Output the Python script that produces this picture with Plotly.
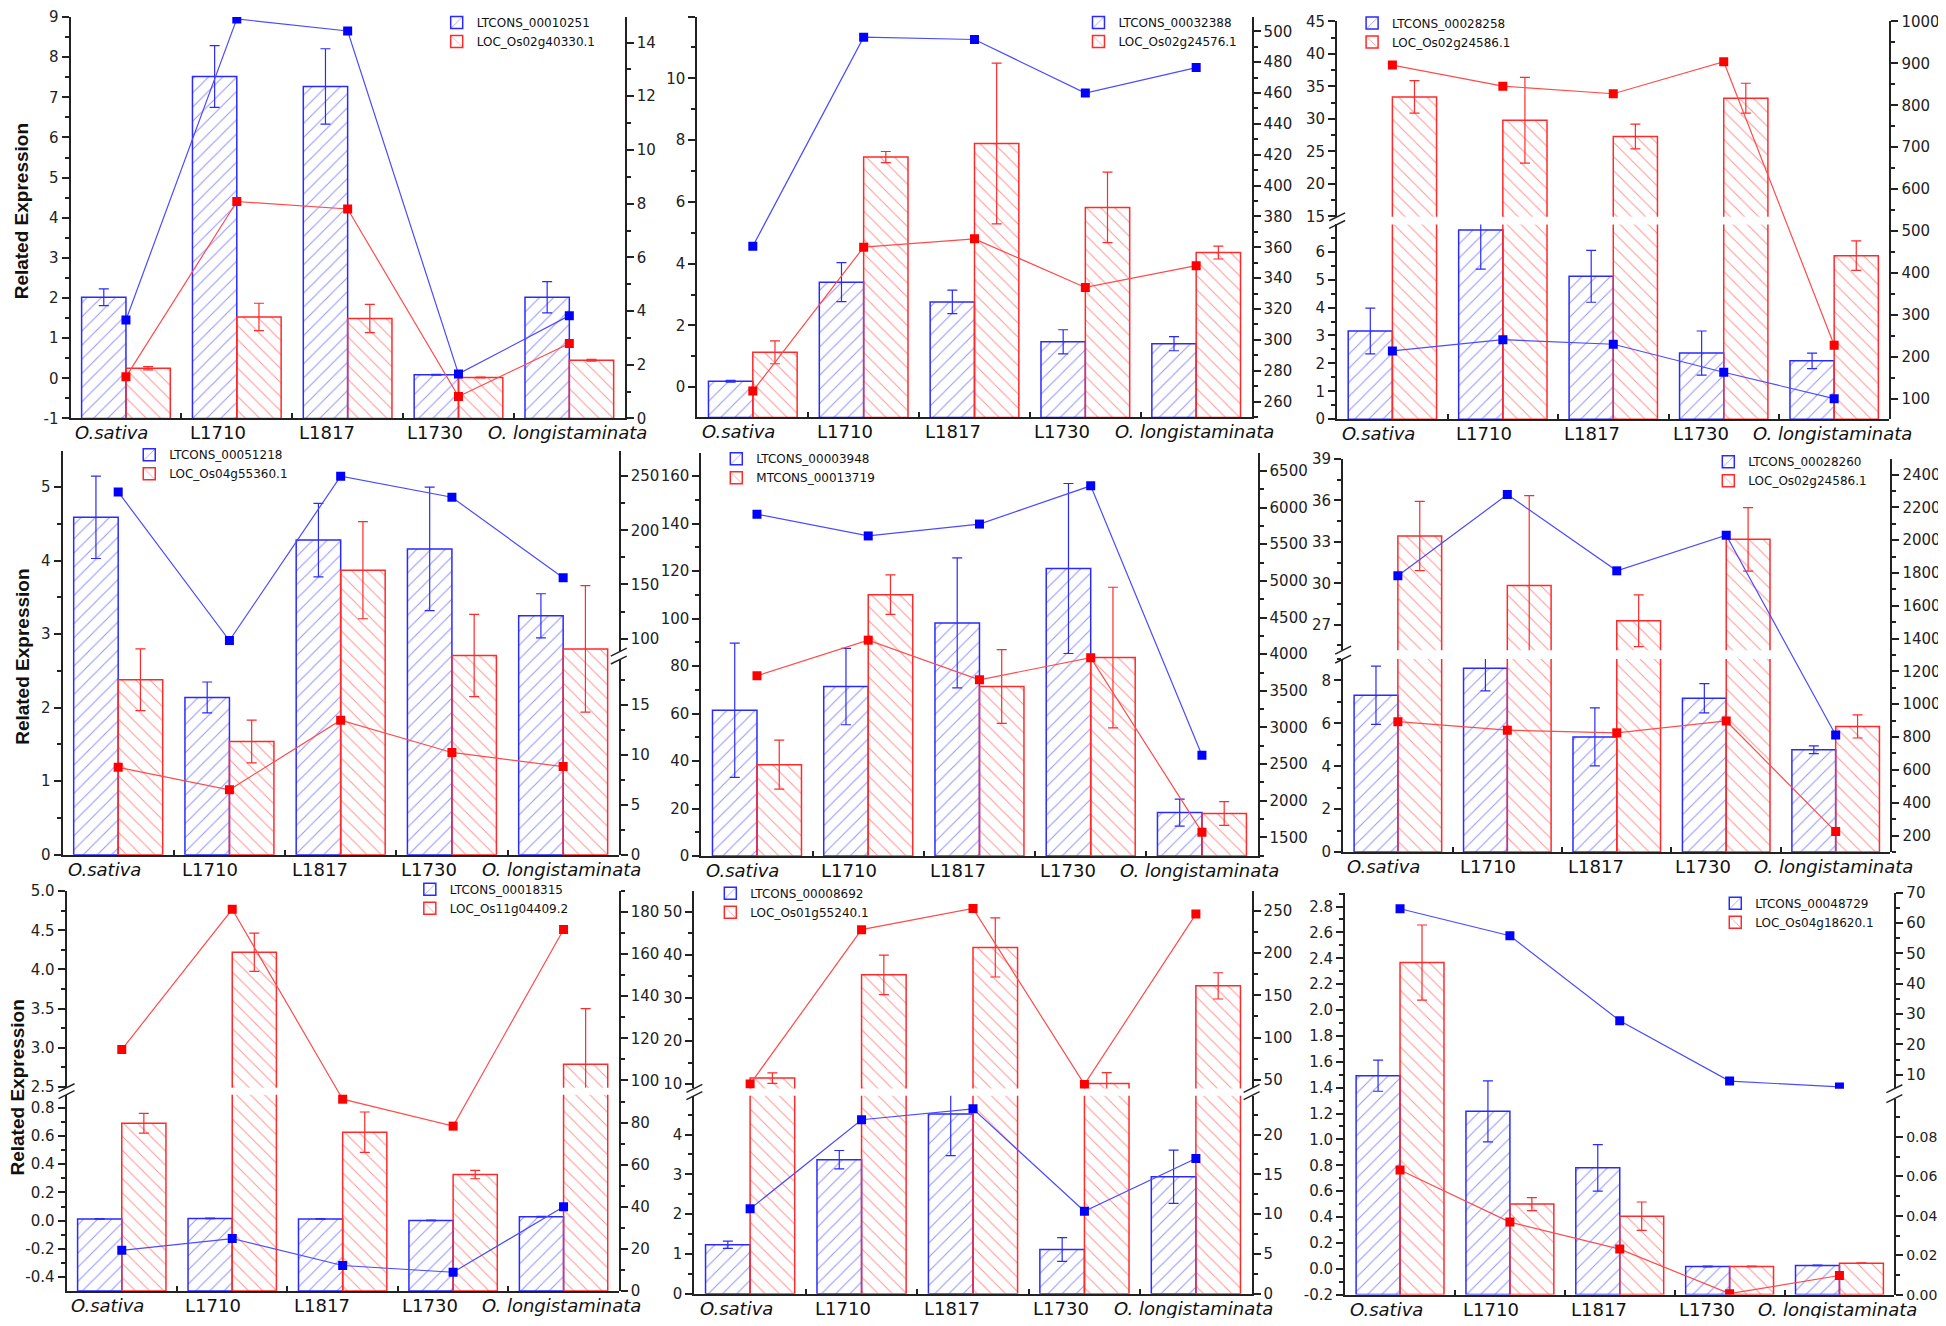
import math
import plotly.graph_objects as go

# the page body keeps its default 8px margin, so the figure sits at (8, 8) in the window
OFF = 8
FW, FH = 1946 - 2 * OFF, 1326 - 2 * OFF
# the original runs right to the window edges; squeeze the layout a hair so nothing is clipped
KX, KY = 0.995, 0.99

CATEGORIES = ["O.sativa", "L1710", "L1817", "L1730", "O. longistaminata"]
TICK_TEXT = ["<i>O.sativa</i>", "L1710", "L1817", "L1730", "<i>O. longistaminata</i>"]
# the original's category labels sit a little left of their bar groups (px)
LABEL_SHIFT = [-14, -19, -21, -23, -2]

# ---- values (bars: left axis, lines: right axis) ----
P1_NAMES = ["LTCONS_00010251", "LOC_Os02g40330.1"]
P1_BLUE_BAR = [2.02, 7.52, 7.27, 0.09, 2.02]
P1_BLUE_ERR = [0.21, 0.77, 0.94, 0.01, 0.39]
P1_RED_BAR = [0.25, 1.53, 1.49, 0.02, 0.45]
P1_RED_ERR = [0.04, 0.34, 0.35, 0.01, 0.02]
P1_BLUE_LINE = [3.67, 14.88, 14.43, 1.66, 3.83]
P1_RED_LINE = [1.55, 8.08, 7.80, 0.82, 2.79]

P2_NAMES = ["LTCONS_00032388", "LOC_Os02g24576.1"]
P2_BLUE_BAR = [0.19, 3.40, 2.76, 1.47, 1.41]
P2_BLUE_ERR = [0.03, 0.63, 0.38, 0.39, 0.23]
P2_RED_BAR = [1.13, 7.45, 7.89, 5.82, 4.36]
P2_RED_ERR = [0.37, 0.18, 2.60, 1.14, 0.21]
P2_BLUE_LINE = [360.7, 496.2, 494.7, 460.0, 476.5]
P2_RED_LINE = [266.8, 360.1, 365.5, 334.0, 348.1]

P3_NAMES = ["LTCONS_00028258", "LOC_Os02g24586.1"]
P3_BLUE_BAR = [3.16, 6.78, 5.12, 2.37, 2.09]
P3_BLUE_ERR = [0.82, 1.40, 0.93, 0.79, 0.28]
P3_RED_BAR = [33.4, 29.8, 27.3, 33.2, 5.86]
P3_RED_ERR = [2.5, 6.6, 1.9, 2.3, 0.53]
P3_BLUE_LINE = [214.0, 240.8, 229.8, 163.0, 100.0]
P3_RED_LINE = [896.0, 845.7, 827.6, 903.9, 227.6]

P4_NAMES = ["LTCONS_00051218", "LOC_Os04g55360.1"]
P4_BLUE_BAR = [4.59, 2.14, 4.28, 4.16, 3.25]
P4_BLUE_ERR = [0.56, 0.21, 0.50, 0.84, 0.30]
P4_RED_BAR = [2.38, 1.54, 3.87, 2.71, 2.80]
P4_RED_ERR = [0.42, 0.29, 0.66, 0.56, 0.86]
P4_BLUE_LINE = [235.4, 98.2, 250.0, 230.5, 156.1]
P4_RED_LINE = [8.77, 6.52, 13.5, 10.26, 8.84]

P5_NAMES = ["LTCONS_00003948", "MTCONS_00013719"]
P5_BLUE_BAR = [61.4, 71.4, 98.2, 121.1, 18.3]
P5_BLUE_ERR = [28.3, 16.1, 27.4, 35.8, 5.7]
P5_RED_BAR = [38.5, 110.1, 71.4, 83.6, 17.9]
P5_RED_ERR = [10.3, 8.3, 15.5, 29.6, 5.0]
P5_BLUE_LINE = [5910, 5613, 5775, 6297, 2621]
P5_RED_LINE = [3705, 4191, 3651, 3953, 1572]

P6_NAMES = ["LTCONS_00028260", "LOC_Os02g24586.1"]
P6_BLUE_BAR = [7.31, 8.57, 5.37, 7.17, 4.77]
P6_BLUE_ERR = [1.36, 1.05, 1.35, 0.68, 0.18]
P6_RED_BAR = [33.42, 29.84, 27.29, 33.18, 5.86]
P6_RED_ERR = [2.5, 6.5, 1.87, 2.3, 0.54]
P6_BLUE_LINE = [1783, 2278, 1813, 2030, 813]
P6_RED_LINE = [894, 842, 826, 898, 224]

P7_NAMES = ["LTCONS_00018315", "LOC_Os11g04409.2"]
P7_BLUE_BAR = [0.012, 0.016, 0.012, 0.002, 0.028]
P7_BLUE_ERR = [0.002, 0.002, 0.002, 0.002, 0.003]
P7_RED_BAR = [0.69, 4.22, 0.627, 0.327, 2.79]
P7_RED_ERR = [0.07, 0.245, 0.143, 0.03, 0.71]
P7_BLUE_LINE = [19.3, 24.9, 12.1, 8.9, 40.0]
P7_RED_LINE = [114.7, 181.3, 91.1, 78.3, 171.7]

P8_NAMES = ["LTCONS_00008692", "LOC_Os01g55240.1"]
P8_BLUE_BAR = [1.23, 3.37, 4.52, 1.11, 2.94]
P8_BLUE_ERR = [0.09, 0.23, 1.05, 0.30, 0.67]
P8_RED_BAR = [11.38, 35.36, 41.72, 10.15, 32.8]
P8_RED_ERR = [1.2, 4.6, 6.86, 2.5, 3.05]
P8_BLUE_LINE = [10.66, 21.87, 23.24, 10.37, 17.0]
P8_RED_LINE = [44.9, 227.7, 252.7, 44.5, 246.1]

P9_NAMES = ["LTCONS_00048729", "LOC_Os04g18620.1"]
P9_BLUE_BAR = [1.492, 1.217, 0.78, 0.018, 0.026]
P9_BLUE_ERR = [0.12, 0.236, 0.18, 0.003, 0.003]
P9_RED_BAR = [2.367, 0.50, 0.406, 0.018, 0.043]
P9_RED_ERR = [0.29, 0.05, 0.11, 0.002, 0.002]
P9_BLUE_LINE = [64.7, 55.8, 27.8, 7.9, 6.0]
P9_RED_LINE = [0.0633, 0.0368, 0.0231, 0.0005, 0.0097]

BLUE, RED = "#2a2aff", "#ff2a2a"
BLUE_LINE, RED_LINE = "#4b4bff", "#ff4b4b"
INK = "#222222"

# segment = (range, dtick, minor dtick, tickformat, (top_px, bottom_px) or None for the whole box)
# box = (left_px, right_px, top_px, bottom_px), in window pixels of the original
PANELS = [
    dict(d=(P1_NAMES, P1_BLUE_BAR, P1_BLUE_ERR, P1_RED_BAR, P1_RED_ERR, P1_BLUE_LINE, P1_RED_LINE),
         box=(66, 623, 10.5, 416),
         left=[((-1, 9), 1, 0.5, None, None)],
         right=[((0, 14.95), 2, 1, None, None)],
         segs=(0, 0), legend=(437, 15)),
    dict(d=(P2_NAMES, P2_BLUE_BAR, P2_BLUE_ERR, P2_RED_BAR, P2_RED_ERR, P2_BLUE_LINE, P2_RED_LINE),
         box=(696, 1253, 10, 415),
         left=[((-0.98, 12), 2, 1, None, None)],
         right=[((249.7, 509.6), 20, 10, None, None)],
         segs=(0, 0), legend=(1082, 12)),
    dict(d=(P3_NAMES, P3_BLUE_BAR, P3_BLUE_ERR, P3_RED_BAR, P3_RED_ERR, P3_BLUE_LINE, P3_RED_LINE),
         box=(1339, 1894, 15, 416.7),
         left=[((14.95, 45), 5, 2.5, None, (15, 212.3)),
               ((0, 6.98), 1, 0.5, None, (220, 416.7))],
         right=[((51.1, 1000), 100, 50, None, None)],
         segs=(0, 0), legend=(1357, 17)),
    dict(d=(P4_NAMES, P4_BLUE_BAR, P4_BLUE_ERR, P4_RED_BAR, P4_RED_ERR, P4_BLUE_LINE, P4_RED_LINE),
         box=(58, 617, 449, 856.7),
         left=[((0, 5.49), 1, 0.5, None, None)],
         right=[((87.5, 273.1), 50, 25, None, (449, 652)),
                ((0, 19.53), 5, 2.5, None, (660, 856.7))],
         segs=(0, 1), legend=(128, 453)),
    dict(d=(P5_NAMES, P5_BLUE_BAR, P5_BLUE_ERR, P5_RED_BAR, P5_RED_ERR, P5_BLUE_LINE, P5_RED_LINE),
         box=(700, 1259, 451, 858),
         left=[((0, 169.7), 20, 10, None, None)],
         right=[((1246, 6743), 500, 250, None, None)],
         segs=(0, 0), legend=(718, 457)),
    dict(d=(P6_NAMES, P6_BLUE_BAR, P6_BLUE_ERR, P6_RED_BAR, P6_RED_ERR, P6_BLUE_LINE, P6_RED_LINE),
         box=(1345, 1895, 456.7, 854),
         left=[((25.16, 39.01), 3, 1.5, None, (456.7, 650)),
               ((0, 9.0), 2, 1, None, (659, 854))],
         right=[((99, 2496), 200, 100, None, None)],
         segs=(0, 0), legend=(1715, 460)),
    dict(d=(P7_NAMES, P7_BLUE_BAR, P7_BLUE_ERR, P7_RED_BAR, P7_RED_ERR, P7_BLUE_LINE, P7_RED_LINE),
         box=(62, 617, 893.3, 1297.3),
         left=[((2.49, 5.002), 0.5, 0.25, ".1f", (893.3, 1092)),
               ((-0.498, 0.893), 0.2, 0.1, ".1f", (1099, 1297.3))],
         right=[((0, 190), 20, 10, None, None)],
         segs=(0, 0), legend=(410, 892)),
    dict(d=(P8_NAMES, P8_BLUE_BAR, P8_BLUE_ERR, P8_RED_BAR, P8_RED_ERR, P8_BLUE_LINE, P8_RED_LINE),
         box=(693, 1253, 893, 1300),
         left=[((8.99, 54.9), 10, 5, None, (893, 1092.7)),
               ((0, 4.98), 1, 0.5, None, (1100, 1300))],
         right=[((39.8, 273.8), 50, 25, None, (893, 1092.7)),
                ((0, 24.9), 5, 2.5, None, (1100, 1300))],
         segs=(1, 0), legend=(712, 896)),
    dict(d=(P9_NAMES, P9_BLUE_BAR, P9_BLUE_ERR, P9_RED_BAR, P9_RED_ERR, P9_BLUE_LINE, P9_RED_LINE),
         box=(1347, 1899, 895, 1301),
         left=[((-0.2, 2.907), 0.2, 0.1, ".1f", None)],
         right=[((5.4, 70), 10, 5, None, (895, 1093)),
                ((0, 0.0995), 0.02, 0.01, ".2f", (1103, 1301))],
         segs=(0, 1), legend=(1722, 906)),
]

AXIS = dict(showline=True, linecolor=INK, linewidth=2, ticks="outside", ticklen=7,
            tickwidth=1.5, tickcolor=INK, showgrid=False, zeroline=False, automargin=False,
            tickfont=dict(size=15, color=INK))


def fx(px):
    return (973 + (px - 973) * KX - OFF) / FW


def fy(py):
    return 1 - (663 + (py - 663) * KY - OFF) / FH


def y_axis(rng, dt, mn, fmt):
    ax = dict(AXIS, range=list(rng),
              minor=dict(tickmode="linear", tick0=0, dtick=mn, ticks="outside", ticklen=4,
                         tickwidth=1.5, tickcolor=INK, showgrid=False))
    if rng[0] < 0:
        # spell the labels out so negative values get a plain hyphen like the original
        k = math.ceil(rng[0] / dt - 1e-9)
        vals = []
        while k * dt <= rng[1] + 1e-9:
            vals.append(round(k * dt, 10) + 0.0)
            k += 1
        ax.update(tickmode="array", tickvals=vals,
                  ticktext=[format(v, fmt or "g") for v in vals])
    else:
        ax.update(tickmode="linear", tick0=0, dtick=dt)
        if fmt:
            ax["tickformat"] = fmt
    if fmt == ".2f":
        ax["tickfont"] = dict(size=14, color=INK)
    return ax


fig = go.Figure()
lay = {}
shapes = []
annotations = []
ycount = 0


def break_marks(xpx, ytop, ybot):
    for yy in (ytop, ybot):
        shapes.append(dict(type="line", xref="paper", yref="paper",
                           x0=fx(xpx - 8), y0=fy(yy + 4), x1=fx(xpx + 8), y1=fy(yy - 4),
                           line=dict(color=INK, width=1.5)))


for n, p in enumerate(PANELS, start=1):
    names, bb, be, rb, re_, bl, rl = p["d"]
    x0, x1, top, bot = p["box"]
    xkey = "xaxis" if n == 1 else f"xaxis{n}"
    xref = "x" if n == 1 else f"x{n}"
    legkey = "legend" if n == 1 else f"legend{n}"

    left_refs, left_px = [], []
    for rng, dt, mn, fmt, px in p["left"]:
        ycount += 1
        px = px or (top, bot)
        ref = "y" if ycount == 1 else f"y{ycount}"
        ax = y_axis(rng, dt, mn, fmt)
        ax.update(domain=[fy(px[1]), fy(px[0])], anchor=xref, side="left")
        lay["yaxis" if ycount == 1 else f"yaxis{ycount}"] = ax
        left_refs.append(ref)
        left_px.append(px)

    right_refs, right_px = [], []
    for rng, dt, mn, fmt, px in p["right"]:
        ycount += 1
        px = px or (top, bot)
        ref = f"y{ycount}"
        ax = y_axis(rng, dt, mn, fmt)
        ax.update(anchor=xref, side="right")
        if px in left_px:
            ax["overlaying"] = left_refs[left_px.index(px)]
        else:
            ax["domain"] = [fy(px[1]), fy(px[0])]
        lay[f"yaxis{ycount}"] = ax
        right_refs.append(ref)
        right_px.append(px)

    lay[xkey] = dict(domain=[fx(x0), fx(x1)], anchor=left_refs[-1], type="category",
                     categoryorder="array", categoryarray=CATEGORIES, automargin=False,
                     range=[-0.5, 4.5], tickson="boundaries", ticks="inside", ticklen=5,
                     tickwidth=1.5, tickcolor=INK, showticklabels=False,
                     showline=True, linecolor=INK, linewidth=2, showgrid=False, zeroline=False)

    # category labels, placed on the x axis scale
    for cat, txt, sh in zip(CATEGORIES, TICK_TEXT, LABEL_SHIFT):
        annotations.append(dict(text=txt, x=cat, xref=xref, y=fy(bot), yref="paper",
                                xanchor="center", yanchor="top", xshift=sh, yshift=-2,
                                showarrow=False, font=dict(size=18, color="#111")))

    if len(left_px) == 2:
        break_marks(x0, left_px[0][1], left_px[1][0])
    if len(right_px) == 2:
        break_marks(x1, right_px[0][1], right_px[1][0])

    # bars start at the bottom of the left axis, like the original
    base = min(0, p["left"][-1][0][0])
    for i, yref in enumerate(left_refs):
        for vals, errs, name, color, shape, off in [(bb, be, names[0], BLUE, "/", -0.4),
                                                    (rb, re_, names[1], RED, "\\", 0.0)]:
            fig.add_trace(go.Bar(
                x=CATEGORIES, y=[v - base for v in vals], base=base, width=0.4, offset=off,
                name=name, legend=legkey, showlegend=(i == len(left_refs) - 1),
                marker=dict(color="rgba(0,0,0,0)", line=dict(color=color, width=1.5),
                            pattern=dict(shape=shape, fgcolor=color, bgcolor="rgba(0,0,0,0)",
                                         size=10, solidity=0.1)),
                error_y=dict(type="data", array=errs, color=color, thickness=1.2, width=5),
                xaxis=xref, yaxis=yref, hoverinfo="skip"))

    for vals, seg, lc, mc in [(bl, p["segs"][0], BLUE_LINE, "#0000ff"),
                              (rl, p["segs"][1], RED_LINE, "#ff0000")]:
        fig.add_trace(go.Scatter(
            x=CATEGORIES, y=vals, mode="lines+markers", showlegend=False,
            line=dict(color=lc, width=1.2), marker=dict(symbol="square", size=9, color=mc),
            xaxis=xref, yaxis=right_refs[seg]))

    # legends stay inside the paper so they never push the margins
    lx, ly = p["legend"]
    lay[legkey] = dict(x=fx(lx - 3), y=min(1.0, fy(ly - 15)), xanchor="left", yanchor="top",
                       bgcolor="rgba(0,0,0,0)", borderwidth=0, tracegroupgap=0,
                       font=dict(size=12, color="#111"))

for xc, yc in [(17, 207), (17, 657), (13, 1092)]:
    annotations.append(dict(text="<b>Related Expression</b>", x=fx(xc), y=fy(yc),
                            xref="paper", yref="paper", textangle=-90, showarrow=False,
                            xanchor="center", yanchor="middle",
                            font=dict(family="Liberation Sans, Arial", size=19, color="#111")))

fig.update_layout(
    width=FW, height=FH,
    margin=dict(l=0, r=0, t=0, b=0, autoexpand=False),
    paper_bgcolor="white", plot_bgcolor="rgba(0,0,0,0)",
    font=dict(family="DejaVu Sans", color="#111"),
    showlegend=True, barmode="overlay",
    shapes=shapes, annotations=annotations,
    **lay,
)

fig.write_html("out.html")
